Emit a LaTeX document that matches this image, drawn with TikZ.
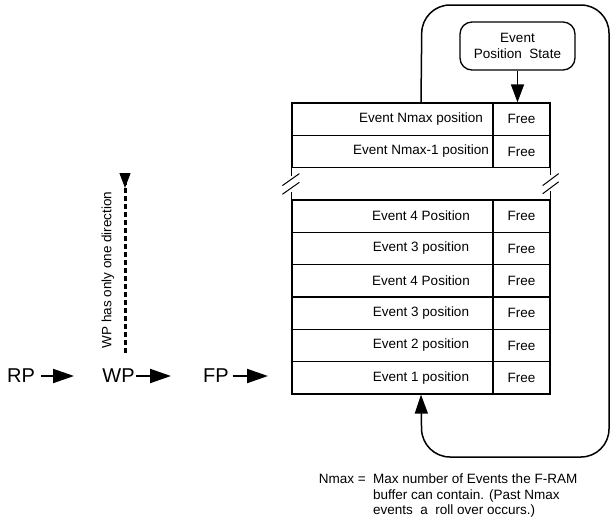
\documentclass[tikz,border=0pt]{standalone}
\usepackage{fontspec}
\setmainfont{Liberation Sans}
\usetikzlibrary{arrows.meta}

\begin{document}
\begin{tikzpicture}[x=1pt,y=-1pt]
\tikzstyle{cell} = [draw,line width=1.3pt,shape=rectangle,minimum width=201pt,minimum height=32.33pt,inner sep=0pt]
\tikzstyle{freecell} = [draw,line width=1.3pt,shape=rectangle,minimum width=57pt,minimum height=32.33pt,inner sep=0pt,font=\fontsize{13.5}{16}\selectfont]
\tikzstyle{celltext} = [inner sep=0pt,font=\fontsize{13.5}{16}\selectfont]
\tikzstyle{ptr} = [inner sep=0pt,font=\fontsize{20}{22}\selectfont]
\tikzstyle{ptrarrow} = [line width=2pt,-{Triangle[length=21pt,width=14pt]}]
\tikzstyle{loopline} = [line width=1.5pt,rounded corners=28pt,-{Triangle[length=19pt,width=13pt]}]
\tikzstyle{edge} = [line width=1.3pt]

\useasboundingbox (0,0) rectangle (611,520);

% buffer rows, slot 0 on top
\node[cell] (c0) at (392.5,119.2) {};
\node[celltext] (t0) at ([xshift=28.5pt]c0.center) {Event Nmax position};
\node[freecell] (f0) at (521.5,119.2) {Free};
\node[cell] (c1) at (392.5,151.5) {};
\node[celltext] (t1) at ([xshift=28.5pt]c1.center) {Event Nmax-1 position};
\node[freecell] (f1) at (521.5,151.5) {Free};

\foreach \k/\txt in {3/Event 4 Position,4/Event 3 position,5/Event 4 Position,6/Event 3 position,7/Event 2 position,8/Event 1 position}{
  \node[cell] (c\k) at (392.5,{103+32.33*(\k+0.5)}) {};
  \node[celltext] (t\k) at ([xshift=28.5pt]c\k.center) {\txt};
  \node[freecell] (f\k) at (521.5,{103+32.33*(\k+0.5)}) {Free};
}

% the gap with its break marks
\draw[edge] (c1.south west) -- ++(0,7.5);
\draw[edge] (c3.north west) -- ++(0,-7.5);
\draw[edge] (f1.south east) -- ++(0,6.5);
\draw[edge] (f3.north east) -- ++(0,-8.5);
\draw[line width=1pt] ([shift={(-9,17.3)}]c1.south west) -- ++(17,-12);
\draw[line width=1pt] ([shift={(-9,26)}]c1.south west) -- ++(17,-12);
\draw[line width=1pt] ([shift={(-8,17.3)}]f1.south east) -- ++(16,-12);
\draw[line width=1pt] ([shift={(-8,25.5)}]f1.south east) -- ++(16,-12);

% state box
\node[draw,line width=1.3pt,rounded corners=12pt,minimum width=115pt,minimum height=48pt,align=center,inner sep=0pt,
      font=\fontsize{13.5}{16}\selectfont] (state) at (517.5,46) {Event\\Position\ \ State};
\draw[line width=1.5pt,-{Triangle[length=18pt,width=13pt]}] (state.south) -- (state.south |- f0.north);

% roll over loop
\draw[loopline] (t0 |- c0.north) -- (422,5) -- (609,5) -- (609,457) -- (422,457) -- (t8 |- c8.south);

% pointers
\node[ptr] (rp) at (21,376) {RP};
\node[ptr] (wp) at (118.5,376) {WP};
\node[ptr] (fp) at (216,376) {FP};
\coordinate (rpEnd) at (74,376);
\coordinate (wpEnd) at (171,376);
\coordinate (fpEnd) at (268,376);
\draw[ptrarrow] ([xshift=6pt]rp.east) -- (rpEnd);
\draw[ptrarrow] ([xshift=1pt]wp.east) -- (wpEnd);
\draw[ptrarrow] ([xshift=4pt]fp.east) -- (fpEnd);

% write direction
\coordinate (dirBot) at (125,353);
\coordinate (dirTop) at (125,188);
\draw[line width=3pt,dash pattern=on 5pt off 3pt] (dirBot) -- ([yshift=14pt]dirTop);
\draw[line width=1pt,-{Triangle[length=15pt,width=11pt]}] ([yshift=15pt]dirTop) -- (dirTop);
\node[celltext,rotate=90] (dirtext) at (108,270) {WP has only one direction};

% note
\node[anchor=north west,align=left,inner sep=0pt,font=\fontsize{13.5}{15.5}\selectfont] (note) at (373,474)
  {Max number of Events the F-RAM\\buffer can contain. (Past Nmax\\events\ \ a\ \ roll over occurs.)};
\node[anchor=north east,inner sep=0pt,font=\fontsize{13.5}{15.5}\selectfont] (nmaxeq) at (366,474) {Nmax =};
\end{tikzpicture}
\end{document}
